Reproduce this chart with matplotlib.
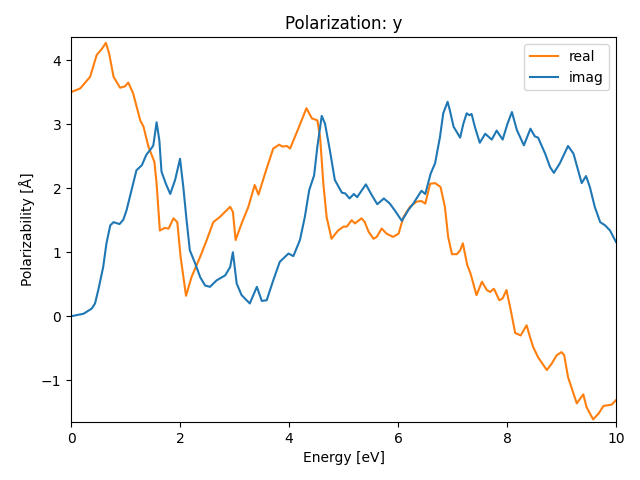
import matplotlib
matplotlib.use("Agg")
import matplotlib.pyplot as plt

energy_real = [0.0, 0.17, 0.35, 0.47, 0.56, 0.64, 0.70, 0.78, 0.90, 0.99, 1.05, 1.14, 1.27, 1.33, 1.42,
               1.53, 1.57, 1.63, 1.72, 1.79, 1.88, 1.95, 2.01, 2.11, 2.21, 2.37, 2.49, 2.61, 2.73, 2.92,
               2.97, 3.02, 3.13, 3.25, 3.37, 3.44, 3.56, 3.71, 3.82, 3.88, 3.96, 4.02, 4.17, 4.32, 4.42,
               4.52, 4.57, 4.63, 4.69, 4.78, 4.90, 5.00, 5.06, 5.15, 5.21, 5.33, 5.39, 5.46, 5.55, 5.61,
               5.70, 5.79, 5.91, 6.01, 6.10, 6.22, 6.34, 6.43, 6.50, 6.59, 6.68, 6.78, 6.86, 6.92, 6.99,
               7.08, 7.14, 7.19, 7.27, 7.33, 7.44, 7.54, 7.63, 7.69, 7.76, 7.86, 7.92, 7.99, 8.07, 8.15,
               8.25, 8.36, 8.42, 8.48, 8.57, 8.73, 8.82, 8.91, 9.00, 9.05, 9.12, 9.28, 9.40, 9.46, 9.58,
               9.68, 9.77, 9.92, 10.0]
real = [3.50, 3.56, 3.74, 4.08, 4.17, 4.27, 4.10, 3.74, 3.57, 3.59, 3.65, 3.48, 3.06, 2.96, 2.65,
        2.41, 2.07, 1.34, 1.38, 1.37, 1.53, 1.47, 0.93, 0.32, 0.61, 0.93, 1.19, 1.47, 1.55, 1.71,
        1.63, 1.19, 1.45, 1.70, 2.05, 1.90, 2.23, 2.62, 2.68, 2.65, 2.66, 2.62, 2.93, 3.25, 3.09,
        3.06, 2.80, 2.07, 1.55, 1.21, 1.34, 1.40, 1.40, 1.50, 1.45, 1.53, 1.47, 1.32, 1.21, 1.24,
        1.37, 1.29, 1.24, 1.29, 1.55, 1.71, 1.79, 1.80, 1.76, 2.07, 2.08, 2.02, 1.71, 1.24, 0.97,
        0.97, 1.03, 1.14, 0.80, 0.67, 0.33, 0.54, 0.41, 0.38, 0.43, 0.25, 0.28, 0.41, 0.09, -0.26,
        -0.30, -0.14, -0.32, -0.48, -0.64, -0.84, -0.74, -0.61, -0.56, -0.61, -0.95, -1.36, -1.22, -1.42, -1.61,
        -1.52, -1.40, -1.38, -1.31]

energy_imag = [0.0, 0.23, 0.38, 0.44, 0.50, 0.59, 0.65, 0.72, 0.78, 0.89, 0.96, 1.02, 1.11, 1.20, 1.30,
               1.38, 1.48, 1.51, 1.57, 1.62, 1.66, 1.74, 1.82, 1.91, 2.00, 2.06, 2.12, 2.18, 2.28, 2.37,
               2.46, 2.55, 2.67, 2.83, 2.92, 2.97, 3.04, 3.13, 3.28, 3.41, 3.50, 3.59, 3.71, 3.83, 3.99,
               4.08, 4.20, 4.29, 4.37, 4.46, 4.52, 4.60, 4.66, 4.75, 4.84, 4.97, 5.03, 5.11, 5.19, 5.25,
               5.41, 5.52, 5.62, 5.74, 5.85, 5.96, 6.07, 6.19, 6.28, 6.43, 6.50, 6.60, 6.68, 6.77, 6.83,
               6.91, 6.95, 7.02, 7.14, 7.20, 7.26, 7.31, 7.35, 7.41, 7.50, 7.60, 7.72, 7.81, 7.92, 8.01,
               8.09, 8.18, 8.31, 8.43, 8.51, 8.57, 8.70, 8.79, 8.86, 8.97, 9.12, 9.22, 9.37, 9.45, 9.52,
               9.61, 9.71, 9.80, 9.89, 10.0]
imag = [0.00, 0.04, 0.12, 0.20, 0.41, 0.77, 1.14, 1.42, 1.47, 1.44, 1.51, 1.66, 1.97, 2.28, 2.36,
        2.52, 2.63, 2.67, 3.03, 2.75, 2.26, 2.07, 1.91, 2.13, 2.46, 2.02, 1.50, 1.03, 0.82, 0.61,
        0.48, 0.46, 0.56, 0.64, 0.77, 1.00, 0.51, 0.33, 0.20, 0.46, 0.24, 0.25, 0.56, 0.85, 0.98,
        0.94, 1.19, 1.55, 1.97, 2.20, 2.65, 3.13, 3.01, 2.59, 2.13, 1.93, 1.92, 1.84, 1.91, 1.86,
        2.06, 1.89, 1.75, 1.84, 1.76, 1.63, 1.49, 1.66, 1.76, 1.96, 1.91, 2.23, 2.39, 2.80, 3.17,
        3.35, 3.22, 2.96, 2.79, 3.01, 3.17, 3.14, 3.16, 2.96, 2.71, 2.85, 2.76, 2.90, 2.76, 3.01,
        3.19, 2.91, 2.67, 2.93, 2.81, 2.79, 2.54, 2.33, 2.24, 2.39, 2.66, 2.54, 2.08, 2.19, 2.02,
        1.71, 1.47, 1.42, 1.34, 1.16]

fig, ax = plt.subplots(figsize=(6.4, 4.8), dpi=100)
ax.plot(energy_real, real, color="C1", label="real")
ax.plot(energy_imag, imag, color="C0", label="imag")
ax.set_xlim(0, 10)
ax.set_ylim(-1.65, 4.355)
ax.set_title("Polarization: y")
ax.set_xlabel("Energy [eV]")
ax.set_ylabel("Polarizability [Å]")
ax.legend(loc="upper right")
fig.subplots_adjust(left=0.111, right=0.9625, top=0.922, bottom=0.121)
fig.savefig("out.png")
